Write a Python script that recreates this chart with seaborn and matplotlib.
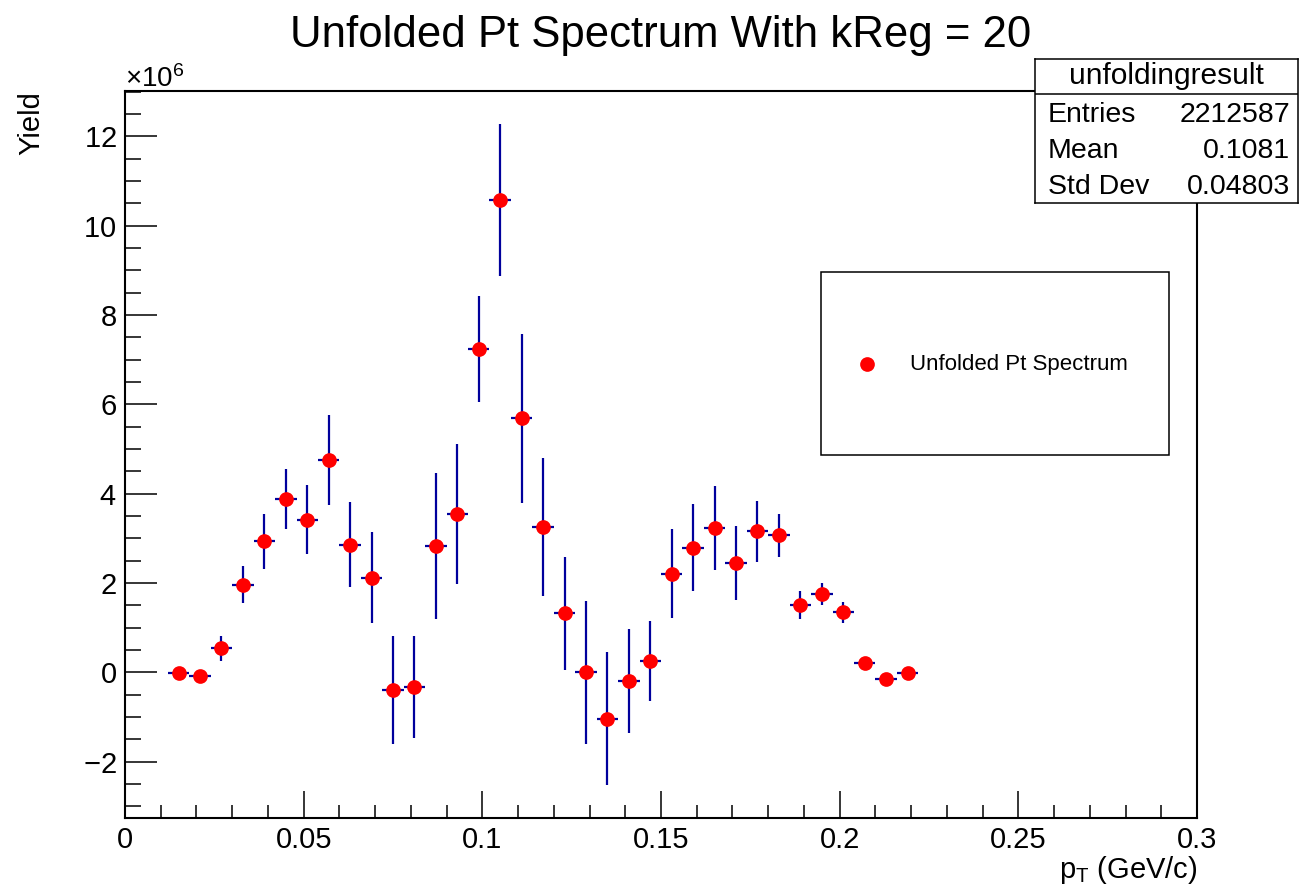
import matplotlib
matplotlib.use("Agg")
import matplotlib.pyplot as plt
from matplotlib.ticker import MultipleLocator
from matplotlib.patches import Rectangle
import pandas as pd
import seaborn as sns

# Unfolded transverse-momentum spectrum (bin centres in GeV/c, yields in units of 1e6)
pt_centers = [0.015, 0.021, 0.027, 0.033, 0.039, 0.045, 0.051, 0.057, 0.063, 0.069,
              0.075, 0.081, 0.087, 0.093, 0.099, 0.105, 0.111, 0.117, 0.123, 0.129,
              0.135, 0.141, 0.147, 0.153, 0.159, 0.165, 0.171, 0.177, 0.183, 0.189,
              0.195, 0.201, 0.207, 0.213, 0.219]
yield_1e6 = [-0.02, -0.09, 0.54, 1.96, 2.93, 3.88, 3.42, 4.75, 2.86, 2.12,
             -0.39, -0.32, 2.83, 3.54, 7.24, 10.57, 5.69, 3.25, 1.32, 0.00,
             -1.04, -0.20, 0.25, 2.21, 2.79, 3.23, 2.45, 3.16, 3.07, 1.51,
             1.75, 1.34, 0.21, -0.16, -0.02]
yield_err_1e6 = [0.05, 0.06, 0.28, 0.41, 0.61, 0.68, 0.78, 1.01, 0.95, 1.02,
                 1.21, 1.14, 1.63, 1.56, 1.18, 1.70, 1.89, 1.55, 1.26, 1.60,
                 1.49, 1.17, 0.90, 1.00, 0.97, 0.94, 0.83, 0.68, 0.48, 0.32,
                 0.25, 0.23, 0.08, 0.06, 0.04]
bin_half_width = 0.003

stats_labels = ["Entries", "Mean", "Std Dev"]
stats_values = ["2212587", "0.1081", "0.04803"]

df = pd.DataFrame({
    "pt": pt_centers,
    "yield": [v * 1e6 for v in yield_1e6],
    "err": [v * 1e6 for v in yield_err_1e6],
})

sns.set_style("white")
plt.rcParams["font.family"] = ["Liberation Sans", "DejaVu Sans"]
plt.rcParams["mathtext.fontset"] = "custom"
plt.rcParams["mathtext.rm"] = "Liberation Sans"
plt.rcParams["mathtext.it"] = "Liberation Sans:italic"
plt.rcParams["mathtext.default"] = "regular"
for key in ["text.color", "axes.labelcolor", "xtick.color", "ytick.color",
            "xtick.labelcolor", "ytick.labelcolor", "axes.edgecolor"]:
    plt.rcParams[key] = "black"

W, H = 1299, 888
fig = plt.figure(figsize=(W / 100, H / 100), dpi=100)
fig.patch.set_facecolor("white")

ax = fig.add_axes([125 / W, 70 / H, 1072 / W, 727 / H])
ax.set_facecolor("white")

# Error bars: bin width horizontally, statistical error vertically
ax.errorbar(df["pt"], df["yield"], xerr=bin_half_width, yerr=df["err"],
            fmt="none", ecolor="#00009c", elinewidth=1.6, capsize=0, zorder=2)
sns.scatterplot(data=df, x="pt", y="yield", ax=ax, color="#ff0000", s=112,
                linewidth=0, zorder=3, label="Unfolded Pt Spectrum", legend=False)

ax.set_xlim(0, 0.3)
ax.set_ylim(-3.262e6, 13.013e6)

ax.xaxis.set_major_locator(MultipleLocator(0.05))
ax.xaxis.set_minor_locator(MultipleLocator(0.01))
ax.yaxis.set_major_locator(MultipleLocator(2e6))
ax.yaxis.set_minor_locator(MultipleLocator(0.5e6))
ax.ticklabel_format(axis="y", style="sci", scilimits=(6, 6), useMathText=True)
ax.set_xticks([0, 0.05, 0.1, 0.15, 0.2, 0.25, 0.3])
ax.set_xticklabels(["0", "0.05", "0.1", "0.15", "0.2", "0.25", "0.3"])

ax.tick_params(axis="x", which="major", direction="in", length=19.5, width=1.1,
               labelsize=21, pad=6, top=False, bottom=True, color="black")
ax.tick_params(axis="x", which="minor", direction="in", length=9.5, width=1.1,
               top=False, bottom=True, color="black")
ax.tick_params(axis="y", which="major", direction="in", length=23, width=1.1,
               labelsize=21, pad=6, left=True, right=False, color="black")
ax.tick_params(axis="y", which="minor", direction="in", length=11.5, width=1.1,
               left=True, right=False, color="black")
ax.yaxis.get_offset_text().set_fontsize(20)

for s in ax.spines.values():
    s.set_visible(True)
    s.set_color("black")
    s.set_linewidth(1.5)

ax.set_ylabel("Yield", fontsize=21, loc="top", labelpad=27)
ax.set_xlabel(r"p$_{\mathrm{T}}$ (GeV/c)", fontsize=21, loc="right", labelpad=0)

fig.text(661 / W, 1 - 36 / H, "Unfolded Pt Spectrum With kReg = 20",
         fontsize=31.5, ha="center", va="center")

# Legend in a framed box
fig.add_artist(Rectangle((821 / W, (H - 455) / H), 348 / W, 183 / H,
                         transform=fig.transFigure, fill=False,
                         edgecolor="black", linewidth=1.1))
leg = ax.legend(loc="center left", bbox_to_anchor=(855.6 / W, (H - 364) / H),
                bbox_transform=fig.transFigure, frameon=False, fontsize=16,
                handlelength=1.0, handletextpad=1.45, borderpad=0, borderaxespad=0)

# Statistics box
sax = fig.add_axes([1035 / W, (H - 203) / H, 263 / W, 144 / H])
sax.set_xlim(0, 263)
sax.set_ylim(144, 0)
sax.set_xticks([])
sax.set_yticks([])
sax.set_facecolor("white")
for s in sax.spines.values():
    s.set_visible(True)
    s.set_color("black")
    s.set_linewidth(1.1)
sax.axhline(35, color="black", linewidth=1.1)
sax.text(131.5, 17.5, "unfoldingresult", fontsize=21.5, ha="center", va="center")
for i, (lab, val) in enumerate(zip(stats_labels, stats_values)):
    yy = 56 + i * 36
    sax.text(13, yy, lab, fontsize=20.5, ha="left", va="center")
    sax.text(255, yy, val, fontsize=20.5, ha="right", va="center")

fig.savefig("out.png", dpi=100, facecolor="white")
